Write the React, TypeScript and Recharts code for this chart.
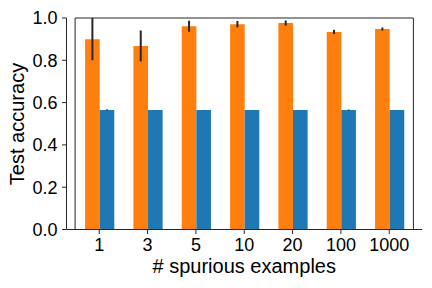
import React from "react";
import { BarChart, Bar, XAxis, YAxis, ErrorBar, Label, ReferenceArea } from "recharts";

const categories = ["1", "3", "5", "10", "20", "100", "1000"];
const spuriousAcc = [0.9, 0.868, 0.961, 0.971, 0.976, 0.934, 0.948];
const spuriousErr = [0.1, 0.073, 0.026, 0.015, 0.012, 0.01, 0.007];
const baselineAcc = [0.565, 0.565, 0.565, 0.565, 0.565, 0.565, 0.565];
const baselineErr = [0.002, 0, 0, 0, 0, 0.002, 0];
const yTicks = [0, 0.2, 0.4, 0.6, 0.8, 1.0];

const data = categories.map((c, i) => ({
  name: c,
  spurious: spuriousAcc[i],
  spuriousErr: spuriousErr[i],
  baseline: baselineAcc[i],
  baselineErr: baselineErr[i],
}));

const FONT = "'Liberation Sans', Arial, sans-serif";
const AXIS = "#262626";

export default function App() {
  return (
    <div style={{ position: "fixed", left: 0, top: 0, width: 432, height: 288, background: "#fff" }}>
      <BarChart
        width={432}
        height={288}
        data={data}
        margin={{ top: 18, right: 10, bottom: 0, left: 0 }}
        barGap={0}
        barSize={14.6}
      >
        <XAxis
          dataKey="name"
          height={58.5}
          padding={{ left: 8.6, right: 8.6 }}
          stroke={AXIS}
          tickSize={4.5}
          tickMargin={4}
          tick={{ fill: "#000", fontSize: 18, fontFamily: FONT }}
          interval={0}
        >
          <Label
            value="# spurious examples"
            position="insideBottom"
            offset={15.5}
            style={{ fill: "#000", fontSize: 20, fontFamily: FONT }}
          />
        </XAxis>
        <YAxis
          width={66.5}
          domain={[0, 1]}
          ticks={yTicks}
          allowDataOverflow
          stroke={AXIS}
          tickSize={4.5}
          tickMargin={4.5}
          tickFormatter={(v: number) => v.toFixed(1)}
          tick={{ fill: "#000", fontSize: 18, fontFamily: FONT }}
        >
          <Label
            content={() => (
              <text
                x={17}
                y={124}
                transform="rotate(-90 17 124)"
                textAnchor="middle"
                dominantBaseline="central"
                style={{ fill: "#000", fontSize: 20, fontFamily: FONT }}
              >
                Test accuracy
              </text>
            )}
          />
        </YAxis>
        <ReferenceArea y1={0} y2={1} fill="none" stroke={AXIS} strokeWidth={1} ifOverflow="visible" />
        <Bar dataKey="spurious" fill="#ff7f0e" isAnimationActive={false}>
          <ErrorBar dataKey="spuriousErr" width={0} stroke={AXIS} strokeWidth={2} />
        </Bar>
        <Bar dataKey="baseline" fill="#1f77b4" isAnimationActive={false}>
          <ErrorBar dataKey="baselineErr" width={0} stroke={AXIS} strokeWidth={2} />
        </Bar>
      </BarChart>
    </div>
  );
}
